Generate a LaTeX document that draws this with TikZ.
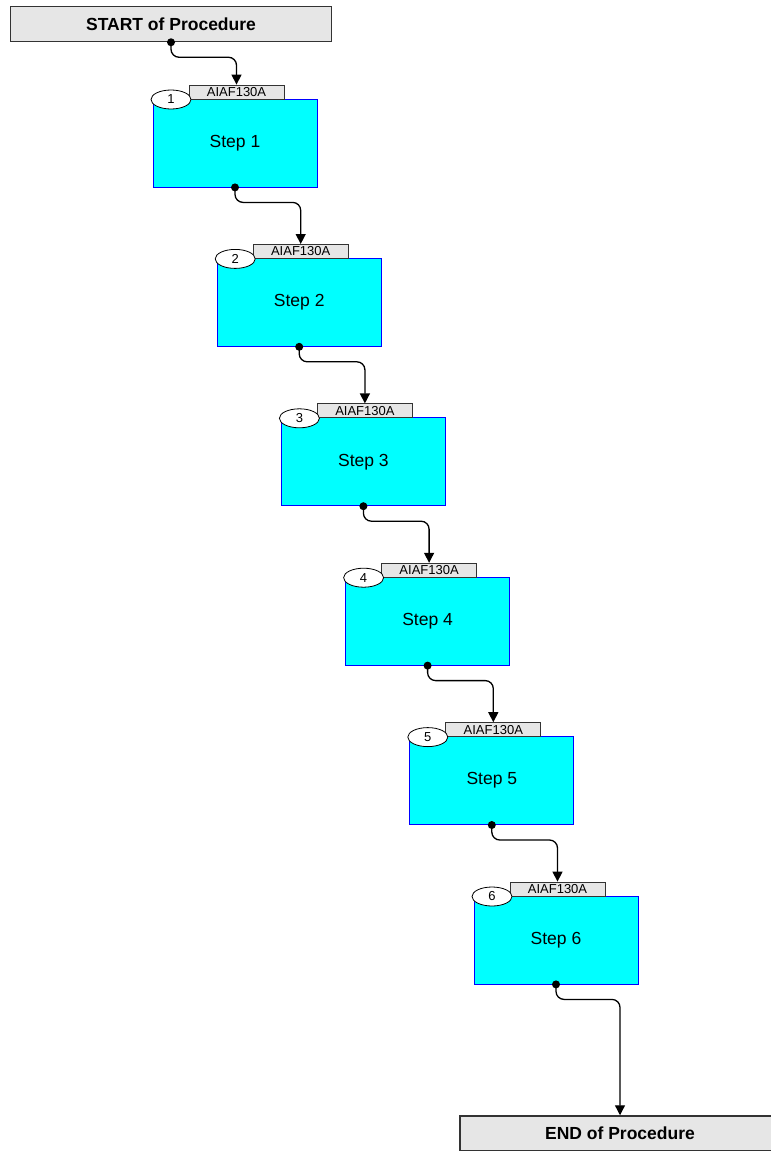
\documentclass[tikz,border=0pt]{standalone}
\usepackage{fontspec}
\setmainfont{Liberation Sans}
\usetikzlibrary{arrows.meta,shapes.geometric}
\definecolor{boxgray}{HTML}{E6E6E6}
\definecolor{edgegray}{HTML}{333333}
\definecolor{stepcyan}{RGB}{0,255,255}
\definecolor{stepblue}{RGB}{0,0,255}
\begin{document}
\begin{tikzpicture}[x=1bp,y=-1bp,
  termbox/.style={draw=edgegray,line width=1.5bp,fill=boxgray,minimum width=321bp,minimum height=35bp,inner sep=0pt,font=\fontsize{17.5bp}{20bp}\selectfont\bfseries},
  stepbox/.style={draw=stepblue,line width=0.8bp,fill=stepcyan,minimum width=164bp,minimum height=88bp,inner sep=0pt,font=\fontsize{17.5bp}{20bp}\selectfont},
  tagbox/.style={draw=edgegray,line width=0.8bp,fill=boxgray,minimum width=95bp,minimum height=14bp,inner sep=0pt,font=\fontsize{13bp}{14bp}\selectfont},
  numell/.style={ellipse,draw=black,line width=0.8bp,fill=white,minimum width=40bp,minimum height=19bp,inner sep=0pt,font=\fontsize{13bp}{14bp}\selectfont},
  conn/.style={draw=black,line width=1.3bp,rounded corners=8bp,-{Triangle[width=10bp,length=10bp]}},
  dotmark/.style={fill=black}
]
\useasboundingbox (0,0) rectangle (771,1151);
\node[termbox] (start) at (171,24) {START of Procedure};
\foreach \i in {1,...,6}{
  \pgfmathsetmacro{\L}{153+64.2*(\i-1)}
  \pgfmathsetmacro{\T}{99+159.4*(\i-1)}
  \node[stepbox] (s\i) at (\L+82,\T+44) {Step \i};
  \node[tagbox] (t\i) at (\L+36+47.5,\T-7) {AIAF130A};
  \node[numell] (n\i) at (\L+18,\T+0.5) {\i};
}
\node[termbox,minimum width=320bp] (end) at (620,1133.5) {END of Procedure};
\draw[conn] (start.south) -- ++(0,15) -| (t1.north);
\fill[dotmark] (start.south) circle (4bp);
\foreach \i/\j in {1/2,2/3,3/4,4/5,5/6}{
  \draw[conn] (s\i.south) -- ++(0,15) -| (t\j.north);
  \fill[dotmark] (s\i.south) circle (4bp);
}
\draw[conn] (s6.south) -- ++(0,15) -| (end.north);
\fill[dotmark] (s6.south) circle (4bp);
\end{tikzpicture}
\end{document}
